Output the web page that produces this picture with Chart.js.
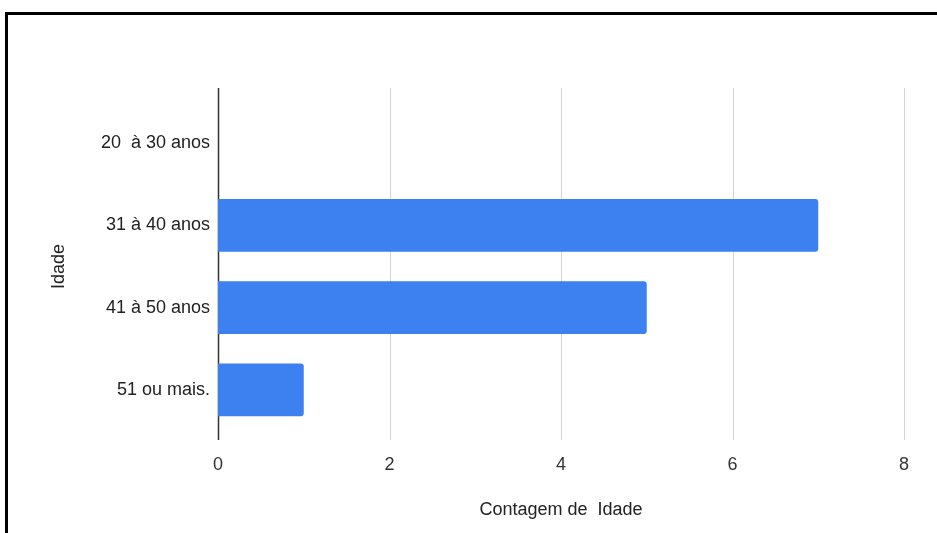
<!DOCTYPE html>
<html>
<head>
<meta charset="utf-8">
<script src="https://cdn.jsdelivr.net/npm/chart.js@4/dist/chart.umd.min.js"></script>
<style>
  html, body { margin: 0; padding: 0; background: #fff; }
  #wrap { position: relative; width: 937px; height: 533px; overflow: hidden; }
  #frame {
    position: absolute; left: 5px; top: 12px; width: 960px; height: 560px;
    border-left: 3px solid #000; border-top: 3px solid #000;
  }
  #chartCanvas { position: absolute; left: 0; top: 0; }
</style>
</head>
<body>
<div id="wrap">
  <div id="frame"></div>
  <canvas id="chartCanvas" width="937" height="533"></canvas>
</div>
<script>
const faixas = ['20  à 30 anos', '31 à 40 anos', '41 à 50 anos', '51 ou mais.'];
const contagem = [0, 7, 5, 1];
const xTicks = [0, 2, 4, 6, 8];

const FONT = 'Liberation Sans, Arial, sans-serif';

// vertical gridlines run a little past the bars, plus the darker zero line
const gridPlugin = {
  id: 'extendedGrid',
  beforeDatasetsDraw(chart) {
    const { ctx, chartArea, scales } = chart;
    const top = chartArea.top - 14;
    const bottom = chartArea.bottom + 9;
    ctx.save();
    xTicks.forEach(v => {
      const x = Math.round(scales.x.getPixelForValue(v)) + 0.5;
      ctx.beginPath();
      ctx.strokeStyle = v === 0 ? '#333333' : '#d3d3d3';
      ctx.lineWidth = v === 0 ? 1.5 : 1;
      ctx.moveTo(x, top);
      ctx.lineTo(x, bottom);
      ctx.stroke();
    });
    ctx.restore();
  }
};

const ctx = document.getElementById('chartCanvas').getContext('2d');
const chart = new Chart(ctx, {
  type: 'bar',
  data: {
    labels: faixas,
    datasets: [{
      label: 'Contagem de  Idade',
      data: contagem,
      backgroundColor: '#3d80ef',
      borderRadius: 3,
      borderSkipped: 'start',
      barPercentage: 0.64,
      categoryPercentage: 1
    }]
  },
  options: {
    indexAxis: 'y',
    responsive: false,
    animation: false,
    layout: { padding: { top: 102, right: 33, left: 0, bottom: 0 } },
    scales: {
      x: {
        min: 0,
        max: 8,
        afterFit(scale) { scale.height = 102; },
        afterBuildTicks(scale) { scale.ticks = xTicks.map(v => ({ value: v })); },
        grid: { display: false, drawTicks: false },
        border: { display: false },
        ticks: { color: '#333', font: { family: FONT, size: 18 }, padding: 23 },
        title: {
          display: true,
          text: 'Contagem de  Idade',
          color: '#222',
          font: { family: FONT, size: 18 },
          padding: { top: 0, bottom: 12 }
        }
      },
      y: {
        afterFit(scale) { scale.width = 218; },
        grid: { display: false, drawTicks: false },
        border: { display: false },
        ticks: { color: '#222', font: { family: FONT, size: 18 }, padding: 8 },
        title: {
          display: true,
          text: 'Idade',
          color: '#222',
          font: { family: FONT, size: 18 },
          padding: { top: 48, bottom: 0 }
        }
      }
    },
    plugins: {
      legend: { display: false },
      tooltip: { enabled: false }
    }
  },
  plugins: [gridPlugin]
});
</script>
</body>
</html>
